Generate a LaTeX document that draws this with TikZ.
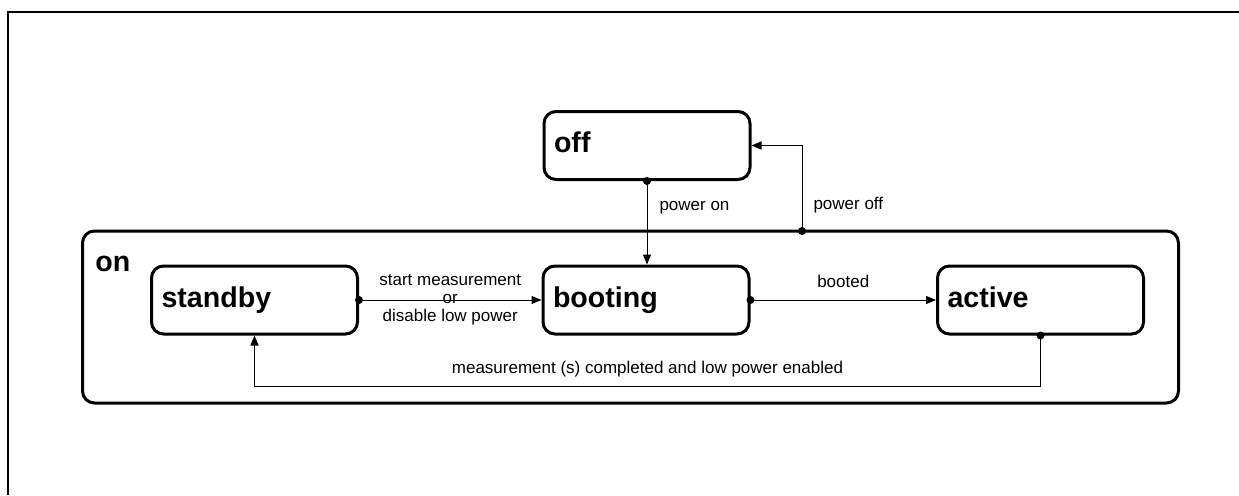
\documentclass[tikz,border=0pt]{standalone}
\usepackage{fontspec}
\setmainfont{Liberation Sans}
\usetikzlibrary{arrows.meta,positioning}

\tikzset{
    state/.style={draw, rectangle, line width=1.5pt, rounded corners=6pt, minimum height=34pt,
        text width=93pt, inner xsep=5pt, text height=10.5pt, text depth=3.5pt, align=left,
        font=\fontsize{14.3}{16}\selectfont\bfseries},
    trans/.style={line width=0.5pt, -{Triangle[length=5pt, width=4pt]}},
    lbl/.style={font=\fontsize{8.5}{9}\selectfont, inner sep=0pt},
}

\begin{document}
\begin{tikzpicture}[x=0.5pt, y=-0.5pt]
    \useasboundingbox (0, 0) rectangle (1239, 495);
    % page frame, only top and left edge
    \draw[line width=1pt] (8, 495)--(8, 12)--(1239, 12);

    % composite state
    \node[draw, rectangle, line width=1.5pt, rounded corners=6pt, minimum width=548pt, minimum height=86pt] (on) at(630.5, 317) {};
    \node[anchor=base west, inner sep=0pt, font=\fontsize{14.3}{16}\selectfont\bfseries] (onlabel) at(95, 271) {on};

    \node[state] (off) at(647, 145.5) {off};
    \node[state] (standby) at(254.5, 300) {standby};
    \node[state] (booting) at(646, 300) {booting};
    \node[state] (active) at(1040.5, 300) {active};
    \coordinate (poweroff) at(802, 231);

    \draw[trans] (off.south)--node[lbl, pos=0.35, anchor=base west, xshift=6pt]{power on} (off.south |- booting.north);
    \draw[trans] (poweroff) |- node[lbl, pos=0.123, anchor=base west, xshift=5.5pt]{power off} (off.east);
    \draw[trans] (standby.east)--node[lbl, align=center]{start measurement\\or\\disable low power} (booting.west);
    \draw[trans] (booting.east)--node[lbl, midway, anchor=base, yshift=6.5pt]{booted} (active.west);
    \draw[trans] (active.south)--++(0, 51) -| node[lbl, pos=0.25, anchor=base, yshift=6.5pt]{measurement (s) completed and low power enabled} (standby.south);

    \foreach \p in {off.south, poweroff, standby.east, booting.east, active.south}
        \fill (\p) circle (2pt);
\end{tikzpicture}
\end{document}
